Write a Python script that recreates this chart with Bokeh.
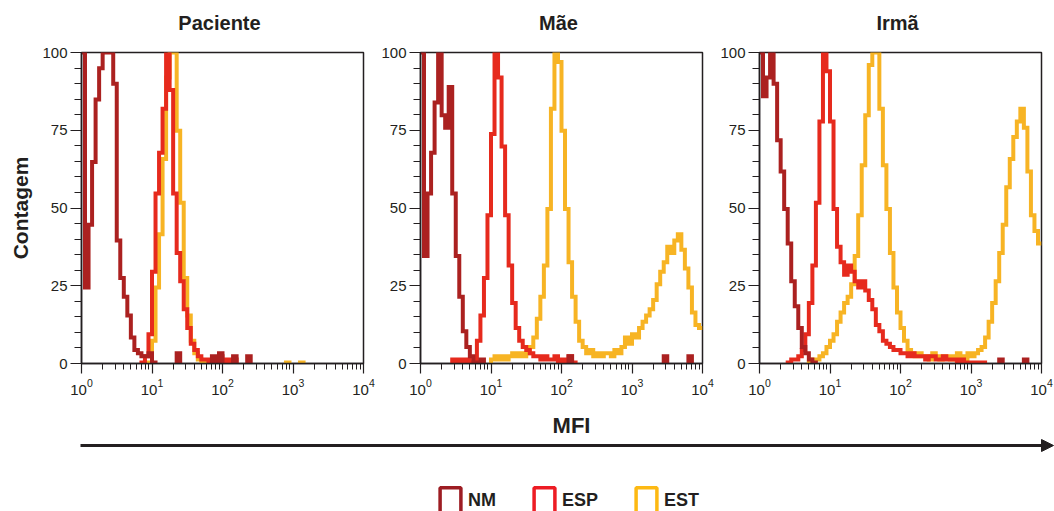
import numpy as np
from bokeh.plotting import figure
from bokeh.layouts import row, column
from bokeh.models import (Range1d, FixedTicker, LogTicker, Legend, LegendItem,
                          Label, Arrow, NormalHead)
from bokeh.embed import file_html
from bokeh.resources import INLINE

# ---------------- data (histogram counts, 80 log-spaced bins from 10^0 to 10^4) ----
panels = ["Paciente", "Mãe", "Irmã"]
series = ["NM", "ESP", "EST"]
n_bins = 80
x_min, x_max = 1, 10000
y_ticks = [0, 25, 50, 75, 100]
y_minor = [5, 10, 15, 20, 30, 35, 40, 45, 55, 60, 65, 70, 80, 85, 90, 95]

pac_nm = [100, 25, 45, 65, 85, 95, 100, 100, 100, 90,
          40, 28, 22, 16, 9, 5, 4, 3, 3, 4,
          1, 0, 0, 0, 0, 0, 0, 4, 0, 0,
          0, 0, 0, 0, 0, 0, 0, 3, 0, 4,
          0, 0, 0, 3, 0, 0, 0, 3, 0, 0,
          0, 0, 0, 0, 0, 0, 0, 0, 0, 0,
          0, 0, 0, 0, 0, 0, 0, 0, 0, 0,
          0, 0, 0, 0, 0, 0, 0, 0, 0, 0]
pac_esp = [0, 0, 0, 0, 0, 0, 0, 0, 0, 0,
           0, 0, 0, 0, 0, 0, 0, 1, 3, 10,
           30, 55, 68, 82, 100, 88, 55, 36, 27, 18,
           12, 7, 5, 3, 2, 2, 1, 2, 1, 3,
           1, 2, 0, 2, 0, 0, 0, 0, 0, 0,
           0, 0, 0, 0, 0, 0, 0, 0, 0, 0,
           0, 0, 0, 0, 0, 0, 0, 0, 0, 0,
           0, 0, 0, 0, 0, 0, 0, 0, 0, 0]
pac_est = [0, 0, 0, 0, 0, 0, 0, 0, 0, 0,
           0, 0, 0, 0, 0, 0, 0, 0, 0, 1,
           8, 25, 42, 66, 92, 100, 100, 75, 52, 28,
           16, 8, 4, 2, 1, 0, 0, 0, 0, 0,
           0, 0, 0, 0, 0, 0, 0, 0, 0, 0,
           0, 0, 0, 0, 0, 0, 0, 0, 1, 0,
           0, 0, 1, 0, 0, 0, 0, 0, 0, 0,
           0, 0, 0, 0, 0, 0, 0, 0, 0, 0]

mae_nm = [100, 35, 55, 68, 84, 100, 80, 76, 89, 55,
          35, 22, 11, 6, 3, 1, 0, 2, 0, 0,
          0, 0, 0, 0, 0, 0, 0, 0, 0, 0,
          0, 0, 0, 0, 0, 0, 0, 0, 0, 0,
          0, 0, 3, 0, 0, 0, 0, 0, 0, 0,
          0, 0, 0, 0, 0, 0, 0, 0, 0, 0,
          0, 0, 0, 0, 0, 0, 0, 0, 0, 3,
          0, 0, 0, 0, 0, 0, 3, 0, 0, 0]
mae_esp = [0, 0, 0, 0, 0, 0, 0, 0, 0, 2,
           1, 2, 1, 2, 1, 1, 8, 16, 28, 48,
           74, 100, 92, 70, 48, 32, 20, 12, 8, 6,
           5, 4, 3, 3, 2, 3, 2, 2, 3, 1,
           2, 1, 3, 1, 0, 0, 0, 0, 0, 0,
           0, 0, 0, 0, 0, 0, 0, 0, 0, 0,
           0, 0, 0, 0, 0, 0, 0, 0, 0, 0,
           0, 0, 0, 0, 0, 0, 0, 0, 0, 0]
mae_est = [0, 0, 0, 0, 0, 0, 0, 0, 0, 0,
           0, 0, 0, 0, 0, 0, 0, 0, 0, 0,
           2, 3, 2, 3, 2, 3, 4, 3, 4, 3,
           4, 6, 9, 15, 22, 32, 50, 82, 100, 97,
           75, 50, 33, 22, 14, 8, 6, 4, 5, 3,
           4, 3, 4, 4, 3, 5, 4, 6, 9, 7,
           10, 9, 12, 14, 16, 18, 21, 26, 30, 33,
           38, 36, 40, 42, 37, 31, 25, 17, 13, 12]

irma_nm = [100, 86, 92, 100, 90, 72, 62, 50, 39, 27,
           19, 12, 6, 4, 2, 1, 0, 0, 0, 0,
           0, 0, 0, 0, 0, 0, 0, 0, 0, 0,
           0, 0, 0, 0, 0, 0, 0, 0, 0, 0,
           0, 0, 0, 0, 0, 0, 0, 0, 0, 0,
           0, 0, 0, 0, 0, 0, 0, 0, 0, 0,
           0, 0, 0, 0, 0, 0, 0, 0, 2, 0,
           0, 0, 0, 0, 0, 2, 0, 0, 0, 0]
irma_esp = [0, 0, 0, 0, 0, 0, 0, 0, 1, 2,
            2, 3, 5, 10, 20, 32, 52, 78, 100, 94,
            78, 50, 38, 33, 29, 32, 30, 27, 25, 27,
            24, 21, 18, 13, 11, 8, 7, 6, 5, 5,
            4, 4, 3, 4, 3, 3, 3, 2, 3, 3,
            2, 2, 3, 2, 2, 2, 1, 2, 1, 1,
            1, 1, 1, 1, 0, 0, 0, 0, 0, 0,
            0, 0, 0, 0, 0, 0, 0, 0, 0, 0]
irma_est = [0, 0, 0, 0, 0, 0, 0, 0, 0, 0,
            0, 0, 0, 0, 1, 2, 2, 3, 4, 6,
            8, 10, 14, 17, 20, 22, 26, 35, 48, 64,
            80, 96, 100, 100, 82, 64, 50, 36, 25, 17,
            12, 8, 5, 4, 3, 4, 3, 3, 2, 4,
            3, 2, 3, 3, 2, 3, 4, 3, 2, 4,
            3, 4, 5, 6, 9, 14, 20, 27, 36, 45,
            57, 66, 73, 78, 82, 76, 62, 48, 43, 39]

panel_data = {
    "Paciente": {"NM": pac_nm, "ESP": pac_esp, "EST": pac_est},
    "Mãe": {"NM": mae_nm, "ESP": mae_esp, "EST": mae_est},
    "Irmã": {"NM": irma_nm, "ESP": irma_esp, "EST": irma_est},
}

# ---------------- style ----------------
FONT = "Liberation Sans"
INK = "#231f20"
line_colors = {"NM": "#ab2120", "ESP": "#e62a1d", "EST": "#f7b424"}
legend_colors = {"NM": "#9d1d23", "ESP": "#ed1c24", "EST": "#fdb913"}

edges = np.linspace(np.log10(x_min), np.log10(x_max), n_bins + 1)
xs = (10 ** edges).tolist()

W = 1054
TOP_H = 40
# (width, border_left, border_right)
geom = [(377, 81, 14), (339, 43, 14), (338, 43, 13)]
title_x = [219, 558, 897]


def make_panel(name, w, bl, br, show_ylabel):
    p = figure(width=w, height=360, x_axis_type="log",
               x_range=Range1d(x_min, x_max), y_range=Range1d(0, 100),
               output_backend="svg", toolbar_location=None,
               min_border_left=bl, min_border_right=br,
               min_border_top=12, min_border_bottom=37)
    # histogram traces share the count scale; the empty baseline sits just under the frame
    p.extra_y_ranges = {"hist": Range1d(0.7, 100)}
    p.xgrid.visible = False
    p.ygrid.visible = False
    p.background_fill_color = "white"
    p.border_fill_color = "white"
    p.outline_line_color = INK
    p.outline_line_width = 1.5
    p.outline_line_alpha = 1

    for ax in (p.xaxis[0], p.yaxis[0]):
        ax.axis_line_color = INK
        ax.axis_line_width = 1.5
        ax.major_tick_line_color = INK
        ax.minor_tick_line_color = INK
        ax.major_tick_line_width = 1.2
        ax.minor_tick_line_width = 1
        ax.major_tick_in = 0
        ax.minor_tick_in = 0
        ax.major_label_text_font = FONT
        ax.major_label_text_font_size = "15px"
        ax.major_label_text_color = INK
    p.xaxis.ticker = LogTicker(num_minor_ticks=10)
    p.xaxis.major_tick_out = 10
    p.xaxis.minor_tick_out = 6
    p.xaxis.major_label_standoff = 5
    p.yaxis.ticker = FixedTicker(ticks=y_ticks, minor_ticks=y_minor)
    p.yaxis.major_tick_out = 11
    p.yaxis.minor_tick_out = 7
    p.yaxis.major_label_standoff = 3
    if show_ylabel:
        p.yaxis.axis_label = "Contagem"
        p.yaxis.axis_label_text_font = FONT
        p.yaxis.axis_label_text_font_size = "21px"
        p.yaxis.axis_label_text_font_style = "bold"
        p.yaxis.axis_label_text_color = INK
        p.yaxis.axis_label_standoff = 7

    for s in ["EST", "ESP", "NM"]:
        vals = panel_data[name][s]
        ys = list(vals) + [vals[-1]]
        p.step(xs, ys, mode="after", line_color=line_colors[s], line_width=4,
               line_join="miter", y_range_name="hist")
    return p


def strip(h):
    f = figure(width=W, height=h, x_range=Range1d(0, W), y_range=Range1d(0, h),
               output_backend="svg", toolbar_location=None, min_border=0,
               x_axis_location=None, y_axis_location=None, outline_line_color=None)
    f.grid.visible = False
    f.background_fill_color = "white"
    f.border_fill_color = "white"
    return f


# ---------------- top strip: panel titles ----------------
pt = strip(TOP_H)
for name, tx in zip(panels, title_x):
    pt.add_layout(Label(x=tx, y=TOP_H - 22, text=name, text_font=FONT,
                        text_font_size="20px", text_font_style="bold",
                        text_align="center", text_baseline="middle", text_color=INK))

figs = []
for i, name in enumerate(panels):
    w, bl, br = geom[i]
    figs.append(make_panel(name, w, bl, br, i == 0))

# ---------------- bottom strip: MFI arrow + legend ----------------
BH = 111
pb = strip(BH)
pb.add_layout(Arrow(end=NormalHead(size=12, fill_color=INK, line_color=INK, line_width=1),
                    x_start=80, y_start=66, x_end=1053, y_end=66,
                    line_width=3, line_color=INK))
pb.add_layout(Label(x=571, y=86, text="MFI", text_font=FONT, text_font_size="22px",
                    text_font_style="bold", text_align="center", text_baseline="middle",
                    text_color=INK))

items = []
for s in series:
    # legend swatch proxies, placed outside the visible range
    r = pb.rect(x=[-500], y=[-500], width=1, height=1, fill_alpha=0,
                line_color=legend_colors[s], line_width=3.5)
    items.append(LegendItem(label=s, renderers=[r]))
legend = Legend(items=items, orientation="horizontal", location=(437, -5),
                glyph_width=26, glyph_height=32, label_height=32, label_standoff=5,
                spacing=35, padding=0, margin=0, border_line_alpha=0,
                background_fill_alpha=0, label_text_font=FONT,
                label_text_font_size="18px", label_text_font_style="bold",
                label_text_color=INK)
pb.add_layout(legend)

layout = column(pt, row(*figs), pb)
open("out.html", "w").write(file_html(layout, INLINE))
